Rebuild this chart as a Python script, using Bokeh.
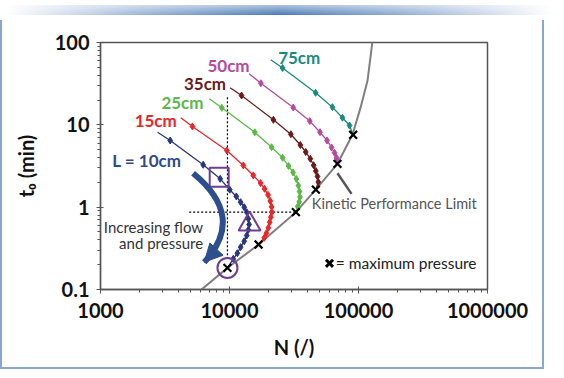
from bokeh.plotting import figure
from bokeh.models import Range1d, FixedTicker, CustomJSTickFormatter, Div, Arrow, NormalHead
from bokeh.layouts import column
from bokeh.core.properties import value
from bokeh.embed import file_html
from bokeh.resources import INLINE

# ---------------- data ----------------
lengths = ["L = 10cm", "15cm", "25cm", "35cm", "50cm", "75cm"]
colors = ["#283580", "#e8262b", "#5cb947", "#6d1a1a", "#b54a9e", "#188a7f"]
label_colors = ["#2f4b8c", "#e8262b", "#5cb947", "#6d1a1a", "#b54a9e", "#188a7f"]

L10_N = [2770, 3470, 6250, 8470, 10050, 11300, 12200, 13000, 13600, 14000, 14200, 14000, 13600, 13000, 12200, 11500, 10700, 9640]
L10_t = [8.14, 6.45, 3.27, 2.21, 1.63, 1.35, 1.15, 1.00, 0.869, 0.722, 0.616, 0.531, 0.453, 0.386, 0.327, 0.276, 0.236, 0.183]
L15_N = [4190, 5160, 9530, 12800, 15300, 17400, 18700, 19900, 20700, 21200, 21300, 20900, 20500, 20000, 19300, 18600, 16800]
L15_t = [12.2, 9.55, 4.88, 3.21, 2.43, 1.96, 1.67, 1.41, 1.19, 1.01, 0.869, 0.755, 0.657, 0.561, 0.483, 0.425, 0.352]
L25_N = [6970, 8720, 15700, 21200, 25800, 28700, 31100, 33000, 34200, 34900, 35200, 34700, 33800, 32700]
L25_t = [20.7, 16.1, 8.13, 5.35, 3.98, 3.16, 2.64, 2.20, 1.83, 1.55, 1.33, 1.16, 1.02, 0.87]
L35_N = [10100, 12400, 21900, 29900, 35400, 39000, 42300, 44900, 46700, 48100, 48800, 46700]
L35_t = [28.2, 22.7, 11.5, 7.69, 5.69, 4.68, 3.87, 3.23, 2.75, 2.36, 2.02, 1.63]
L50_N = [14200, 17500, 31200, 41900, 50300, 57000, 61800, 65200, 67500, 68200, 68700]
L50_t = [41.7, 32.0, 16.2, 11.1, 8.14, 6.46, 5.31, 4.58, 3.98, 3.62, 3.36]
L75_N = [20900, 25800, 46500, 62800, 75100, 85200, 90900]
L75_t = [61.6, 49.0, 24.5, 16.4, 12.2, 9.81, 7.57]

kpl_N = [6070, 9640, 16800, 32700, 46600, 68700, 89800, 104000, 117500, 128000]
kpl_t = [0.1, 0.183, 0.352, 0.87, 1.63, 3.36, 7.57, 16.4, 34.5, 100]

# label anchor positions (data coords)
label_N = [2290, 2680, 4320, 6460, 9820, 34700]
label_t = [3.72, 11.3, 18.8, 31.5, 52.6, 64.9]

x_ticks = [1000, 10000, 100000, 1000000]
y_ticks = [0.1, 1, 10, 100]

# annotation geometry (data coords)
vdash_N = [9640, 9640]
vdash_t = [21.7, 0.245]
hdash_N = [4870, 32700]
hdash_t = [0.87, 0.87]
square_pt = (8320, 2.31)
triangle_pt = (14300, 0.622)
circle_pt = (9640, 0.183)
arrow_start = (5220, 2.58)
arrow_ctrl = (13500, 0.766)
arrow_end = (6370, 0.214)
arrow_head_from = (7130, 0.259)
leader_N = [68700, 88300]
leader_t = [2.58, 1.45]
kpl_label = (43500, 1.12)
flow_label = (6240, 0.571, 0.362)
legend_pt = (59600, 0.208)
legend_text_pt = (66700, 0.208)

# ---------------- figure ----------------
p = figure(width=544, height=349, x_axis_type="log", y_axis_type="log",
           x_range=Range1d(1000, 1e6), y_range=Range1d(0.1, 100),
           output_backend="svg", toolbar_location=None,
           min_border_left=98, min_border_right=59, min_border_top=22, min_border_bottom=80,
           background_fill_color="white", border_fill_color="white")
p.styles = {"border-left": "2px solid #8aa6d0", "border-right": "2px solid #8aa6d0",
            "border-bottom": "2px solid #8aa6d0"}
p.grid.visible = False
p.outline_line_color = "#555555"
p.outline_line_width = 1.5

minor_x = [m * 10 ** k for k in range(3, 6) for m in range(2, 10)]
minor_y = [m * 10.0 ** k for k in range(-1, 2) for m in range(2, 10)]
p.xaxis.ticker = FixedTicker(ticks=x_ticks, minor_ticks=minor_x)
p.yaxis.ticker = FixedTicker(ticks=y_ticks, minor_ticks=minor_y)
fmt = CustomJSTickFormatter(code="return tick >= 1 ? tick.toFixed(0) : String(tick);")
p.xaxis.formatter = fmt
p.yaxis.formatter = fmt

for ax in (p.xaxis, p.yaxis):
    ax.axis_line_color = "#555555"
    ax.axis_line_width = 1.3
    ax.major_tick_line_color = "#555555"
    ax.minor_tick_line_color = "#555555"
    ax.major_tick_in = 3
    ax.major_tick_out = 4
    ax.minor_tick_in = 0
    ax.minor_tick_out = 3
    ax.major_label_text_font = "Lato"
    ax.major_label_text_font_style = "bold"
    ax.major_label_text_font_size = "20px"
    ax.major_label_text_color = "#111111"
    ax.axis_label_text_font = "Lato"
    ax.axis_label_text_font_style = "bold"
    ax.axis_label_text_font_size = "20px"
    ax.axis_label_text_color = "#111111"

p.xaxis.axis_label = "N (/)"
p.yaxis.axis_label = "t\u2080 (min)"
p.xaxis.major_label_standoff = 9
p.yaxis.major_label_standoff = 7
p.xaxis.axis_label_standoff = 14
p.yaxis.axis_label_standoff = 14

# dashed guide lines
p.line(vdash_N, vdash_t, line_color="black", line_width=1.2, line_dash="2 2")
p.line(hdash_N, hdash_t, line_color="black", line_width=1.2, line_dash="2 2")

# kinetic performance limit
p.line(kpl_N, kpl_t, line_color="#808080", line_width=2)

series = [(L10_N, L10_t), (L15_N, L15_t), (L25_N, L25_t), (L35_N, L35_t), (L50_N, L50_t), (L75_N, L75_t)]
for (ns, ts), c in zip(series, colors):
    p.line(ns, ts, line_color=c, line_width=1.3)
    p.scatter(ns[1:-1], ts[1:-1], marker="diamond", size=7, fill_color=c, line_color=c)

# max pressure crosses
p.scatter([s[0][-1] for s in series], [s[1][-1] for s in series], marker="x", size=11,
          line_color="black", line_width=2.2)

# curve labels
p.text(label_N, label_t, text=lengths, text_color=label_colors, text_font=value("Lato"),
       text_font_style="bold", text_font_size="17px", text_align="center", text_baseline="middle")

purple = "#6f3c97"
p.scatter([square_pt[0]], [square_pt[1]], marker="square", size=19, fill_color=None,
          line_color=purple, line_width=2)
p.scatter([triangle_pt[0]], [triangle_pt[1]], marker="triangle", size=22, fill_color=None,
          line_color=purple, line_width=2)
p.scatter([circle_pt[0]], [circle_pt[1]], marker="circle", size=20, fill_color=None,
          line_color=purple, line_width=2)

# curved arrow
navy = "#2d4f8e"
p.quadratic(x0=[arrow_start[0]], y0=[arrow_start[1]], x1=[arrow_end[0]], y1=[arrow_end[1]],
            cx=[arrow_ctrl[0]], cy=[arrow_ctrl[1]], line_color=navy, line_width=6)
p.add_layout(Arrow(end=NormalHead(size=18, fill_color=navy, line_color=navy),
                   x_start=arrow_head_from[0], y_start=arrow_head_from[1],
                   x_end=arrow_end[0], y_end=arrow_end[1], line_color=navy, line_width=3))

p.text([flow_label[0], flow_label[0]], [flow_label[1], flow_label[2]],
       text=["Increasing flow", "and pressure"], text_color="#333333", text_font=value("Lato"),
       text_font_size="15px", text_align="right", text_baseline="middle")

# KPL label and leader line
p.line(leader_N, leader_t, line_color="#555555", line_width=2.5)
p.text([kpl_label[0]], [kpl_label[1]], text=["Kinetic Performance Limit"], text_color="#555555",
       text_font=value("Lato"), text_font_size="14.5px", text_align="left", text_baseline="middle")

# legend
p.scatter([legend_pt[0]], [legend_pt[1]], marker="x", size=10, line_color="black", line_width=3)
p.text([legend_text_pt[0]], [legend_text_pt[1]], text=["= maximum pressure"], text_color="#222222",
       text_font=value("Lato"), text_font_size="15.5px", text_align="left", text_baseline="middle")

bar = Div(text="", width=548, height=10,
          styles={"background": "linear-gradient(to bottom, rgba(255,255,255,0.55), rgba(255,255,255,0)), "
                                "linear-gradient(to right, #ffffff, #9ab3d6 25%, #4a7ab5 50%, #9ab3d6 75%, #ffffff)"})

layout = column(bar, p, spacing=0)
open("out.html", "w").write(file_html(layout, INLINE))
